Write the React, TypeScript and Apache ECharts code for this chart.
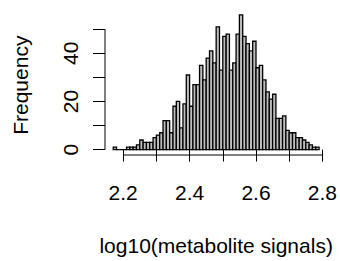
import React, { useEffect, useRef } from "react";
import * as echarts from "echarts";

// Histogram bins: start of first bin, bin width, and counts per bin
const binStart = 2.17;
const binWidth = 0.01;
const counts = [
  1, 0, 0, 0, 1, 1, 1, 2, 4, 3,
  3, 3, 5, 6, 7, 12, 12, 7, 18, 20,
  9, 19, 31, 18, 27, 27, 35, 29, 38, 41,
  36, 51, 33, 47, 48, 33, 36, 48, 56, 47,
  44, 41, 45, 34, 35, 29, 24, 21, 23, 13,
  13, 14, 8, 7, 7, 5, 5, 4, 3, 2,
  1, 1,
];

const xTicks = [2.2, 2.3, 2.4, 2.5, 2.6, 2.7, 2.8];
const xLabels = [2.2, 2.4, 2.6, 2.8];
const yTicks = [0, 10, 20, 30, 40, 50];
const yLabels = [0, 20, 40];

const xTitle = "log10(metabolite signals)";
const yTitle = "Frequency";

const FONT = "'Liberation Sans', Arial, Helvetica, sans-serif";

export default function App() {
  const ref = useRef<HTMLDivElement>(null);

  useEffect(() => {
    if (!ref.current) return;
    const chart = echarts.init(ref.current, undefined, { renderer: "svg" });

    const bins = counts.map((c, i) => {
      const x0 = +(binStart + i * binWidth).toFixed(4);
      const x1 = +(binStart + (i + 1) * binWidth).toFixed(4);
      return [x0, x1, c];
    });
    const lastEdge = bins[bins.length - 1][1];
    const span = lastEdge - binStart;
    const xMin = binStart - span * 0.04;
    const xMax = lastEdge + span * 0.04;
    const yDataMax = Math.max(...counts);
    const yMin = -yDataMax * 0.04;
    const yMax = yDataMax * 1.04;

    const option: any = {
      animation: false,
      backgroundColor: "#ffffff",
      grid: { left: 105, right: 7.3, top: 9.4, bottom: 100.4, containLabel: false },
      xAxis: {
        type: "value",
        min: xMin,
        max: xMax,
        name: xTitle,
        nameLocation: "middle",
        nameGap: 80,
        nameTextStyle: { fontSize: 21, color: "#000", fontFamily: FONT },
        axisLine: { show: false },
        axisTick: {
          show: true,
          length: 12,
          customValues: xTicks,
          lineStyle: { color: "#000", width: 1 },
        },
        axisLabel: {
          show: true,
          customValues: xLabels,
          margin: 27,
          fontSize: 21,
          color: "#000",
          fontFamily: FONT,
          formatter: (v: number) => v.toFixed(1),
        },
        splitLine: { show: false },
      },
      yAxis: {
        type: "value",
        min: yMin,
        max: yMax,
        name: yTitle,
        nameLocation: "middle",
        nameGap: 74,
        nameTextStyle: { fontSize: 21, color: "#000", fontFamily: FONT, padding: [0, 6, 0, 0] },
        axisLine: { show: false },
        axisTick: {
          show: true,
          length: 12,
          customValues: yTicks,
          lineStyle: { color: "#000", width: 1 },
        },
        axisLabel: {
          show: true,
          customValues: yLabels,
          rotate: 90,
          margin: 24,
          fontSize: 21,
          color: "#000",
          fontFamily: FONT,
        },
        splitLine: { show: false },
      },
      series: [
        {
          type: "custom",
          data: bins,
          encode: { x: [0, 1], y: 2 },
          renderItem: (params: any, api: any) => {
            const p0 = api.coord([api.value(0), api.value(2)]);
            const p1 = api.coord([api.value(1), 0]);
            return {
              type: "rect",
              shape: { x: p0[0], y: p0[1], width: p1[0] - p0[0], height: p1[1] - p0[1] },
              style: { fill: "#bebebe", stroke: "#000", lineWidth: 1.3 },
            };
          },
        },
        {
          type: "custom",
          data: [[0]],
          silent: true,
          renderItem: (params: any, api: any) => {
            const xa = api.coord([xTicks[0], yMin]);
            const xb = api.coord([xTicks[xTicks.length - 1], yMin]);
            const ya = api.coord([xMin, yTicks[0]]);
            const yb = api.coord([xMin, yTicks[yTicks.length - 1]]);
            return {
              type: "group",
              children: [
                {
                  type: "line",
                  shape: { x1: xa[0], y1: xa[1], x2: xb[0], y2: xb[1] },
                  style: { stroke: "#000", lineWidth: 1 },
                },
                {
                  type: "line",
                  shape: { x1: ya[0], y1: ya[1], x2: yb[0], y2: yb[1] },
                  style: { stroke: "#000", lineWidth: 1 },
                },
              ],
            };
          },
        },
      ],
    };

    chart.setOption(option);
    return () => chart.dispose();
  }, []);

  return (
    <div
      ref={ref}
      style={{ position: "fixed", left: 0, top: 0, width: 340, height: 261, background: "#fff" }}
    />
  );
}
